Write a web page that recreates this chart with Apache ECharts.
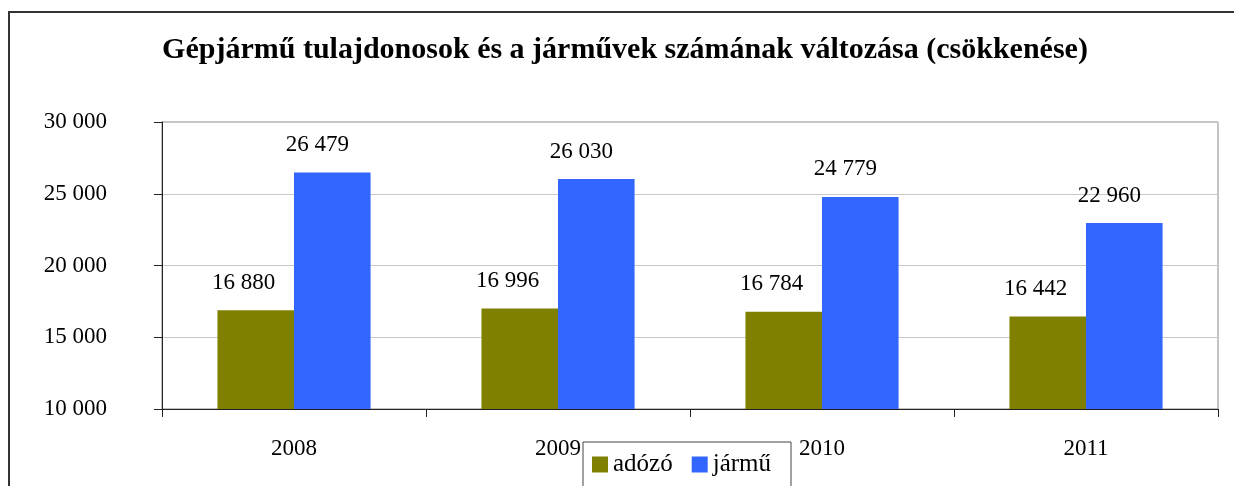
<!DOCTYPE html>
<html>
<head>
<meta charset="utf-8">
<script src="https://cdn.jsdelivr.net/npm/echarts@6/dist/echarts.min.js"></script>
<style>
  html, body { margin: 0; padding: 0; background: #fff; }
  #chart { width: 1234px; height: 486px; }
</style>
</head>
<body>
<div id="chart"></div>
<script>
// évek és értékek
const years = ['2008', '2009', '2010', '2011'];
const adozo = [16880, 16996, 16784, 16442];
const jarmu = [26479, 26030, 24779, 22960];
const yTicks = [10000, 15000, 20000, 25000, 30000];

const FONT = '"Liberation Serif", "DejaVu Serif", serif';

// ezres tagolás szóközzel
function fmt(v) {
  return String(v).replace(/\B(?=(\d{3})+(?!\d))/g, ' ');
}

const chart = echarts.init(document.getElementById('chart'));
chart.setOption({
  animation: false,
  textStyle: { fontFamily: FONT },
  title: {
    text: 'Gépjármű tulajdonosok és a járművek számának változása (csökkenése)',
    left: 620,
    textAlign: 'center',
    top: 30,
    textStyle: { fontFamily: FONT, fontSize: 30, fontWeight: 'bold', color: '#000' }
  },
  graphic: [{
    type: 'rect',
    shape: { x: 9, y: 12, width: 1240, height: 520 },
    style: { fill: 'none', stroke: '#333', lineWidth: 2 },
    silent: true
  }],
  legend: {
    left: 583,
    top: 442,
    itemWidth: 16,
    itemHeight: 16,
    itemGap: 19,
    icon: 'rect',
    padding: [10, 20, 12, 9],
    borderColor: '#444',
    borderWidth: 1,
    textStyle: { fontFamily: FONT, fontSize: 25, color: '#000' },
    data: ['adózó', 'jármű']
  },
  grid: { left: 162, right: 16, top: 122, bottom: 77, show: true, borderColor: '#888', borderWidth: 1 },
  xAxis: {
    type: 'category',
    data: years,
    axisLine: { lineStyle: { color: '#222', width: 1 } },
    axisTick: { show: true, length: 8, lineStyle: { color: '#222' } },
    axisLabel: { margin: 28, fontFamily: FONT, fontSize: 23, color: '#000' }
  },
  yAxis: {
    type: 'value',
    min: yTicks[0],
    max: yTicks[yTicks.length - 1],
    interval: 5000,
    axisLine: { show: true, lineStyle: { color: '#222', width: 1 } },
    axisTick: { show: true, length: 8, lineStyle: { color: '#222' } },
    splitLine: { lineStyle: { color: '#c8c8c8' } },
    axisLabel: { margin: 55, fontFamily: FONT, fontSize: 23, color: '#000', formatter: fmt }
  },
  series: [
    {
      name: 'adózó',
      type: 'bar',
      data: adozo,
      barGap: '0%',
      barCategoryGap: '42%',
      itemStyle: { color: '#808000' },
      label: {
        show: true, position: 'top', distance: 16, offset: [-12, 0],
        fontFamily: FONT, fontSize: 23, color: '#000', formatter: p => fmt(p.value)
      }
    },
    {
      name: 'jármű',
      type: 'bar',
      data: jarmu,
      itemStyle: { color: '#3366ff' },
      label: {
        show: true, position: 'top', distance: 16, offset: [-15, 0],
        fontFamily: FONT, fontSize: 23, color: '#000', formatter: p => fmt(p.value)
      }
    }
  ]
});
</script>
</body>
</html>
